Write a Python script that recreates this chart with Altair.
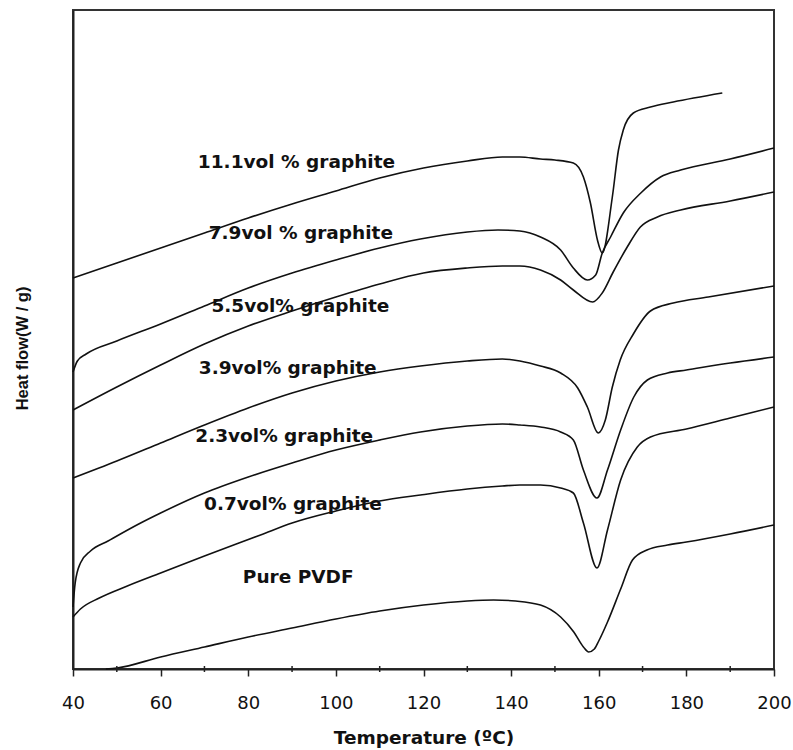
import altair as alt
import pandas as pd

# Temperature (°C) and heat flow (arbitrary units)
T_pure = [47.5, 50, 60, 70, 80, 90, 100, 110, 120, 130, 136, 141, 146.7, 151.3, 154.3, 156.5, 157.7, 159, 160, 162, 165, 167.7, 171, 175.7, 180, 190, 200]
H_pure = [0.00, 0.01, 0.12, 0.22, 0.32, 0.41, 0.50, 0.58, 0.64, 0.68, 0.69, 0.68, 0.64, 0.52, 0.37, 0.22, 0.17, 0.20, 0.28, 0.47, 0.80, 1.09, 1.19, 1.24, 1.27, 1.35, 1.44]

T_07 = [40, 41.7, 46, 52.4, 60, 70, 82.8, 90, 100, 110, 119.3, 130, 138, 142, 146.7, 151.3, 154.2, 156.5, 159.6, 162, 165, 168.8, 171.8, 180, 190, 200]
H_07 = [0.52, 0.60, 0.71, 0.83, 0.96, 1.13, 1.34, 1.46, 1.58, 1.68, 1.74, 1.80, 1.83, 1.84, 1.84, 1.81, 1.76, 1.46, 1.01, 1.39, 1.89, 2.22, 2.32, 2.40, 2.51, 2.62]

T_23 = [40, 40.5, 41.7, 44, 48, 55, 60, 70, 80, 90, 100, 110, 119.3, 130, 138, 142, 146.7, 151.3, 154.2, 156.5, 159.6, 162, 165, 168, 171.1, 175.7, 180, 190, 200]
H_23 = [0.62, 0.86, 1.06, 1.18, 1.28, 1.45, 1.56, 1.76, 1.92, 2.06, 2.19, 2.29, 2.37, 2.43, 2.45, 2.44, 2.42, 2.37, 2.29, 1.99, 1.71, 1.99, 2.39, 2.72, 2.89, 2.96, 2.99, 3.06, 3.12]

T_39 = [40, 50, 60, 70, 80, 90, 100, 110, 119.3, 130, 138, 142, 146.7, 151.3, 155.2, 157.4, 159.9, 161.5, 163.1, 164.9, 167.9, 171.8, 177, 185, 200]
H_39 = [1.91, 2.08, 2.26, 2.44, 2.61, 2.76, 2.88, 2.97, 3.03, 3.08, 3.10, 3.08, 3.03, 2.96, 2.81, 2.62, 2.36, 2.49, 2.82, 3.09, 3.35, 3.58, 3.66, 3.72, 3.83]

T_55 = [40, 50, 60, 70, 80, 90, 100, 110, 120, 130, 138, 142, 146.7, 151.3, 154.2, 158.6, 160.8, 163.3, 166.5, 169.5, 173.4, 178.7, 190, 200]
H_55 = [2.59, 2.82, 3.04, 3.25, 3.43, 3.58, 3.72, 3.85, 3.96, 4.01, 4.03, 4.03, 3.99, 3.89, 3.79, 3.67, 3.76, 3.97, 4.22, 4.42, 4.52, 4.59, 4.68, 4.77]

T_79 = [40, 41, 43, 50, 60, 70, 80, 90, 100, 110, 119.3, 130, 137, 142, 146.7, 151.3, 154.2, 157.4, 159.3, 160.8, 162.7, 165.6, 169.6, 174.1, 178.7, 190, 200]
H_79 = [2.97, 3.08, 3.15, 3.28, 3.45, 3.63, 3.81, 3.96, 4.09, 4.21, 4.30, 4.37, 4.39, 4.38, 4.32, 4.19, 4.01, 3.89, 3.94, 4.16, 4.32, 4.56, 4.76, 4.92, 4.99, 5.10, 5.21]

T_111 = [40, 50, 60, 70, 80, 90, 100, 110, 120, 130, 138, 142, 146.7, 150, 154.2, 156.5, 158.1, 159.7, 160.8, 163.1, 164.5, 165.6, 167.9, 171.8, 177, 188.2]
H_111 = [3.91, 4.06, 4.21, 4.36, 4.51, 4.65, 4.78, 4.91, 5.01, 5.08, 5.12, 5.12, 5.10, 5.09, 5.06, 4.92, 4.66, 4.29, 4.16, 4.72, 5.19, 5.39, 5.56, 5.62, 5.67, 5.76]

series_names = ["Pure PVDF", "0.7vol%", "2.3vol%", "3.9vol%", "5.5vol%", "7.9vol%", "11.1vol%"]
series_T = [T_pure, T_07, T_23, T_39, T_55, T_79, T_111]
series_H = [H_pure, H_07, H_23, H_39, H_55, H_79, H_111]

# Curve labels and where they sit (data coordinates)
label_text = ["11.1vol % graphite", "7.9vol % graphite", "5.5vol% graphite",
              "3.9vol% graphite", "2.3vol% graphite", "0.7vol% graphite", "Pure PVDF"]
label_T = [91.0, 92.0, 91.9, 89.0, 88.2, 90.2, 91.4]
label_H = [5.07, 4.36, 3.63, 3.01, 2.33, 1.65, 0.92]

major_ticks = [40, 60, 80, 100, 120, 140, 160, 180, 200]
minor_ticks = [50, 70, 90, 110, 130, 150, 170, 190]

rows = []
for name, ts, hs in zip(series_names, series_T, series_H):
    for t, h in zip(ts, hs):
        rows.append({"series": name, "T": t, "H": h})
df = pd.DataFrame(rows)
lab_df = pd.DataFrame({"label": label_text, "T": label_T, "H": label_H})
minor_df = pd.DataFrame({"T": minor_ticks})

FONT = "DejaVu Sans"

xscale = alt.Scale(domain=[40, 200], nice=False, zero=False)
yscale = alt.Scale(domain=[0, 6.59], nice=False, zero=False)

x_enc = alt.X("T:Q", scale=xscale, axis=alt.Axis(
    values=major_ticks, title="Temperature (ºC)", grid=False, labelFlush=False,
    tickSize=7, tickWidth=1.5, tickColor="#222",
    domainColor="#222", domainWidth=2,
    labelFont=FONT, labelFontSize=18, labelColor="#111", labelPadding=18,
    titleFont=FONT, titleFontSize=18.5, titleFontWeight="bold", titleColor="#111",
    titleY=68, titleBaseline="middle"))
y_enc = alt.Y("H:Q", scale=yscale, axis=alt.Axis(
    labels=False, ticks=False, grid=False, title="Heat flow(W / g)",
    domainColor="#222", domainWidth=2,
    titleFont="Liberation Sans", titleFontSize=16.5, titleFontWeight="bold", titleColor="#111",
    titleX=-51, titleY=338, titleAngle=-90, titleAlign="center", titleBaseline="middle"))

lines = alt.Chart(df).mark_line(color="#111", strokeWidth=1.6, interpolate="monotone").encode(
    x=x_enc, y=y_enc, detail="series:N")

labels = alt.Chart(lab_df).mark_text(font=FONT, fontSize=18.5, fontWeight="bold", color="#111",
                                     align="center", baseline="middle").encode(
    x=alt.X("T:Q", scale=xscale), y=alt.Y("H:Q", scale=yscale), text="label:N")

minor = alt.Chart(minor_df).mark_rule(color="#222", strokeWidth=1.5).encode(
    x=alt.X("T:Q", scale=xscale), y=alt.value(656), y2=alt.value(662))

chart = alt.layer(lines, labels, minor).properties(
    width=701, height=659,
    padding={"left": 73, "top": 10, "right": 19, "bottom": 81},
    autosize="none",
).configure_view(stroke="#333", strokeWidth=2)

chart.save("out.html", embed_options={"renderer": "svg", "actions": False})
